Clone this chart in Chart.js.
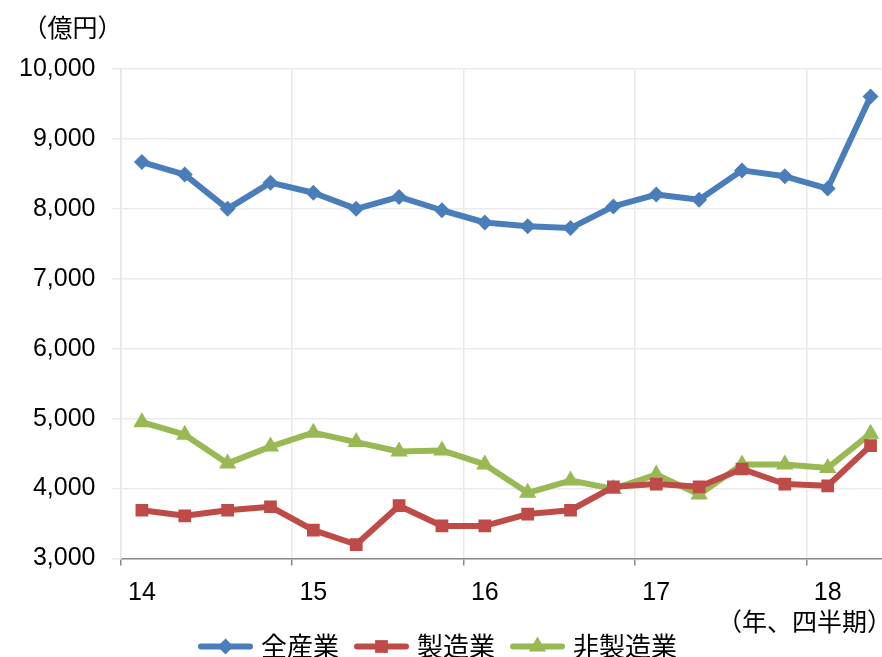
<!DOCTYPE html>
<html>
<head>
<meta charset="utf-8">
<script src="https://cdn.jsdelivr.net/npm/chart.js"></script>
<style>
  html, body { margin: 0; padding: 0; background: #fff; overflow: hidden; }
  #wrap { width: 902px; height: 657px; }
</style>
</head>
<body>
<div id="wrap"><canvas id="grafico"></canvas></div>
<script>
// quarters 2014Q1 - 2018Q2
const categories = ['14/1','14/2','14/3','14/4','15/1','15/2','15/3','15/4','16/1','16/2','16/3','16/4','17/1','17/2','17/3','17/4','18/1','18/2'];
const tickLabels = ['14','','','','15','','','','16','','','','17','','','','18',''];

const allIndustry = [8670, 8490, 8000, 8375, 8230, 8000, 8170, 7980, 7805, 7750, 7725, 8035, 8205, 8130, 8550, 8465, 8290, 9605];
const manufacturing = [3690, 3610, 3690, 3740, 3405, 3200, 3755, 3465, 3465, 3635, 3690, 4025, 4065, 4025, 4280, 4065, 4040, 4615];
const nonManufacturing = [4950, 4770, 4360, 4600, 4800, 4665, 4530, 4545, 4345, 3940, 4115, 3995, 4200, 3915, 4345, 4345, 4295, 4785];

const seriesNames = ['全産業', '製造業', '非製造業'];
const yUnit = '（億円）';
const xUnit = '（年、四半期）';

const cjkFont = '"Noto Sans CJK JP", "Noto Sans CJK SC", sans-serif';
const latinFont = '"Liberation Sans", Arial, sans-serif';
const legendShiftX = -15;
const legendShiftY = -3;

// moves the legend a little, draws line + marker in the legend and the unit labels
const extras = {
  id: 'extras',
  afterLayout(chart) {
    const lg = chart.legend;
    lg.left += legendShiftX;
    lg.right += legendShiftX;
    lg.top += legendShiftY;
    lg.bottom = lg.top + 60; // legend clips to its box, keep the text inside
  },
  afterDraw(chart) {
    const { ctx, chartArea } = chart;
    const legend = chart.legend;
    ctx.save();
    legend.legendHitBoxes.forEach((box, i) => {
      const ds = chart.data.datasets[i];
      const cy = box.top + box.height / 2;
      ctx.strokeStyle = ds.borderColor;
      ctx.fillStyle = ds.borderColor;
      ctx.lineWidth = 6;
      ctx.lineCap = 'round';
      ctx.beginPath();
      ctx.moveTo(box.left + 3, cy);
      ctx.lineTo(box.left + 52, cy);
      ctx.stroke();
      Chart.helpers.drawPoint(ctx, {
        pointStyle: ds.pointStyle,
        radius: ds.pointRadius,
        rotation: 0,
        borderWidth: 0
      }, box.left + 27.5, cy);
    });

    ctx.fillStyle = '#000';
    ctx.font = '25px ' + cjkFont;
    ctx.textBaseline = 'middle';
    ctx.textAlign = 'center';
    ctx.fillText(yUnit, chartArea.left - 48, chartArea.top - 42);
    ctx.textAlign = 'right';
    ctx.fillText(xUnit, chartArea.right, chartArea.bottom + 63);
    ctx.restore();
  }
};

new Chart(document.getElementById('grafico'), {
  type: 'line',
  data: {
    labels: categories,
    datasets: [
      {
        label: seriesNames[0],
        data: allIndustry,
        borderColor: '#4a7ebb',
        backgroundColor: '#4a7ebb',
        pointStyle: 'rectRot',
        pointRadius: 8,
      },
      {
        label: seriesNames[1],
        data: manufacturing,
        borderColor: '#be4b48',
        backgroundColor: '#be4b48',
        pointStyle: 'rect',
        pointRadius: 9,
      },
      {
        label: seriesNames[2],
        data: nonManufacturing,
        borderColor: '#98b954',
        backgroundColor: '#98b954',
        pointStyle: 'triangle',
        pointRadius: 10,
      },
    ],
  },
  options: {
    responsive: true,
    maintainAspectRatio: false,
    animation: false,
    datasets: {
      line: {
        borderWidth: 6,
        tension: 0,
        borderJoinStyle: 'round',
        borderCapStyle: 'round',
        pointBorderWidth: 0,
        pointHoverRadius: 10,
      },
    },
    layout: {
      padding: { left: 3, right: 0, top: 69, bottom: 0 },
    },
    plugins: {
      legend: {
        position: 'bottom',
        maxHeight: 35.5,
        labels: {
          boxWidth: 50,
          boxHeight: 6,
          padding: 15,
          color: '#000',
          font: { size: 26, family: cjkFont },
          generateLabels(chart) {
            // box is left empty, the line and marker are drawn in the plugin
            return chart.data.datasets.map((ds, i) => ({
              text: ds.label,
              fillStyle: 'rgba(0,0,0,0)',
              strokeStyle: 'rgba(0,0,0,0)',
              lineWidth: 0,
              datasetIndex: i,
            }));
          },
        },
      },
      tooltip: { enabled: true },
    },
    scales: {
      x: {
        offset: true,
        grid: {
          offset: true,
          lineWidth: 1.5,
          color: (ctx) => (ctx.index % 4 === 0 ? '#e8e8e8' : 'transparent'),
          tickColor: (ctx) => (ctx.index % 4 === 0 ? '#8a8a8a' : 'transparent'),
          tickLength: 7,
        },
        border: { color: '#8a8a8a', width: 1.5 },
        ticks: {
          autoSkip: false,
          maxRotation: 0,
          padding: 13,
          color: '#000',
          font: { size: 25, family: latinFont },
          callback: (value, index) => tickLabels[index],
        },
      },
      y: {
        min: 3000,
        max: 10000,
        grid: {
          color: '#ebebeb',
          lineWidth: 1.5,
          tickLength: 9,
          tickColor: '#ebebeb',
        },
        border: { color: '#e6e6e6', width: 1.5 },
        ticks: {
          stepSize: 1000,
          padding: 16,
          color: '#000',
          font: { size: 25, family: latinFont },
          callback: (value) => value.toLocaleString('en-US'),
        },
      },
    },
  },
  plugins: [extras],
});
</script>
</body>
</html>
